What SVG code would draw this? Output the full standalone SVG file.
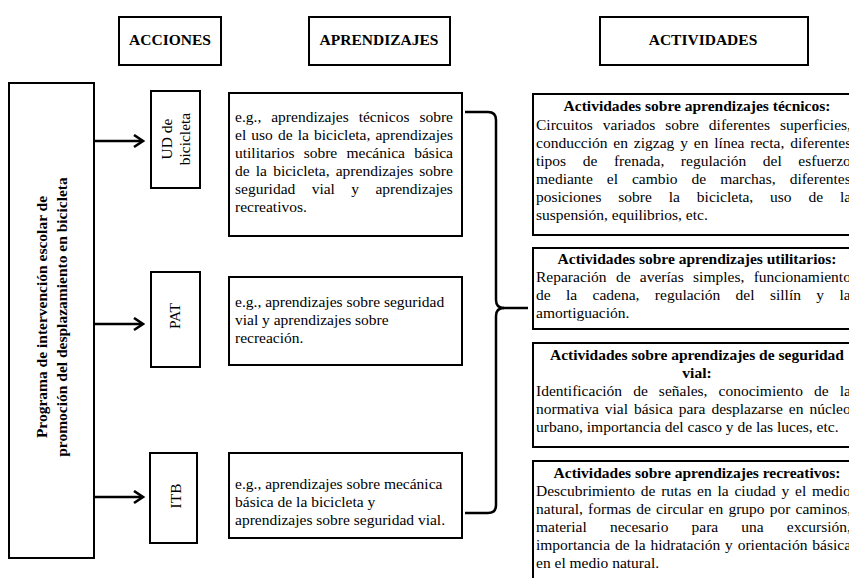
<svg xmlns="http://www.w3.org/2000/svg" width="849" height="578" viewBox="0 0 849 578">
<defs>
<style>
.box{fill:#fff;stroke:#000;stroke-width:2}
.t{font-family:"Liberation Serif","Times New Roman",serif;font-size:15.5px;fill:#000}
.b{font-weight:bold}
.c{text-anchor:middle}
.con{fill:none;stroke:#000;stroke-width:2.5}
</style>
<marker id="ah" markerUnits="userSpaceOnUse" markerWidth="14" markerHeight="16" refX="10" refY="7" orient="auto">
<path d="M1,1 L10,7 L1,13" fill="none" stroke="#000" stroke-width="2.6"/>
</marker>
</defs>
<rect width="849" height="578" fill="#fff"/>

<g id="h-acciones"><rect class="box" x="119" y="17" width="102" height="48"/><text class="t b c" x="170" y="45">ACCIONES</text></g>
<g id="h-aprendizajes"><rect class="box" x="309" y="17" width="141" height="48"/><text class="t b c" x="379" y="45">APRENDIZAJES</text></g>
<g id="h-actividades"><rect class="box" x="600" y="17" width="208" height="48"/><text class="t b c" x="703" y="45">ACTIVIDADES</text></g>

<g id="programa"><rect class="box" x="9" y="83" width="85" height="475"/>
<text class="t b c" transform="translate(47,317) rotate(-90)">Programa de intervención escolar de</text>
<text class="t b c" transform="translate(67,317) rotate(-90)">promoción del desplazamiento en bicicleta</text></g>

<g id="ud"><rect class="box" x="151" y="91" width="49" height="97"/>
<text class="t c" transform="translate(172,139) rotate(-90)">UD de</text>
<text class="t c" transform="translate(190,139) rotate(-90)">bicicleta</text></g>
<g id="pat"><rect class="box" x="151" y="272" width="49" height="95"/>
<text class="t c" transform="translate(180,316) rotate(-90)">PAT</text></g>
<g id="itb"><rect class="box" x="150" y="453" width="47" height="90"/>
<text class="t c" transform="translate(181,496) rotate(-90)">ITB</text></g>

<g id="apr1"><rect class="box" x="229" y="93" width="233" height="143"/>
<text class="t" x="235" y="122" word-spacing="6.1">e.g., aprendizajes técnicos sobre</text>
<text class="t" x="235" y="140" word-spacing="1.24">el uso de la bicicleta, aprendizajes</text>
<text class="t" x="235" y="158" word-spacing="5.37">utilitarios sobre mecánica básica</text>
<text class="t" x="235" y="176" word-spacing="2.3">de la bicicleta, aprendizajes sobre</text>
<text class="t" x="235" y="194" word-spacing="12.5">seguridad vial y aprendizajes</text>
<text class="t" x="235" y="212">recreativos.</text></g>
<g id="apr2"><rect class="box" x="229" y="277" width="233" height="88"/>
<text class="t" x="235" y="307">e.g., aprendizajes sobre seguridad</text>
<text class="t" x="235" y="325">vial y aprendizajes sobre</text>
<text class="t" x="235" y="343">recreación.</text></g>
<g id="apr3"><rect class="box" x="229" y="453" width="233" height="85"/>
<text class="t" x="235" y="489">e.g., aprendizajes sobre mecánica</text>
<text class="t" x="235" y="507">básica de la bicicleta y</text>
<text class="t" x="235" y="525">aprendizajes sobre seguridad vial.</text></g>

<g id="act1"><rect class="box" x="533" y="94" width="330" height="141"/>
<text class="t b c" x="697" y="111">Actividades sobre aprendizajes técnicos:</text>
<text class="t" x="536" y="130" word-spacing="6.1">Circuitos variados sobre diferentes superficies,</text>
<text class="t" x="536" y="148" word-spacing="2.0">conducción en zigzag y en línea recta, diferentes</text>
<text class="t" x="536" y="166" word-spacing="12.7">tipos de frenada, regulación del esfuerzo</text>
<text class="t" x="536" y="184" word-spacing="10.1">mediante el cambio de marchas, diferentes</text>
<text class="t" x="536" y="202" word-spacing="13.0">posiciones sobre la bicicleta, uso de la</text>
<text class="t" x="536" y="220">suspensión, equilibrios, etc.</text></g>
<g id="act2"><rect class="box" x="533" y="248" width="330" height="81"/>
<text class="t b c" x="697" y="264">Actividades sobre aprendizajes utilitarios:</text>
<text class="t" x="536" y="282" word-spacing="5.45">Reparación de averías simples, funcionamiento</text>
<text class="t" x="536" y="300" word-spacing="11.5">de la cadena, regulación del sillín y la</text>
<text class="t" x="536" y="318">amortiguación.</text></g>
<g id="act3"><rect class="box" x="533" y="343" width="330" height="104"/>
<text class="t b c" x="697" y="360">Actividades sobre aprendizajes de seguridad</text>
<text class="t b c" x="697" y="378">vial:</text>
<text class="t" x="536" y="396" word-spacing="7.2">Identificación de señales, conocimiento de la</text>
<text class="t" x="536" y="414" word-spacing="2.1">normativa vial básica para desplazarse en núcleo</text>
<text class="t" x="536" y="432">urbano, importancia del casco y de las luces, etc.</text></g>
<g id="act4"><rect class="box" x="533" y="461" width="330" height="130"/>
<text class="t b c" x="697" y="478">Actividades sobre aprendizajes recreativos:</text>
<text class="t" x="536" y="496" word-spacing="1.9">Descubrimiento de rutas en la ciudad y el medio</text>
<text class="t" x="536" y="514" word-spacing="1.3">natural, formas de circular en grupo por caminos,</text>
<text class="t" x="536" y="532" word-spacing="19.25">material necesario para una excursión,</text>
<text class="t" x="536" y="550" word-spacing="1.0">importancia de la hidratación y orientación básica</text>
<text class="t" x="536" y="568">en el medio natural.</text></g>

<g id="connectors">
<line class="con" x1="94" y1="141" x2="143" y2="141" marker-end="url(#ah)"/>
<line class="con" x1="94" y1="324" x2="143" y2="324" marker-end="url(#ah)"/>
<line class="con" x1="94" y1="497" x2="143" y2="497" marker-end="url(#ah)"/>
<path class="con" d="M465,112 L488,112 Q496,112 496,120 L496,300 Q496,308 504,308 Q496,308 496,316 L496,505 Q496,513 488,513 L465,513"/>
<path class="con" d="M503,308 L528,308"/>
</g>
</svg>
